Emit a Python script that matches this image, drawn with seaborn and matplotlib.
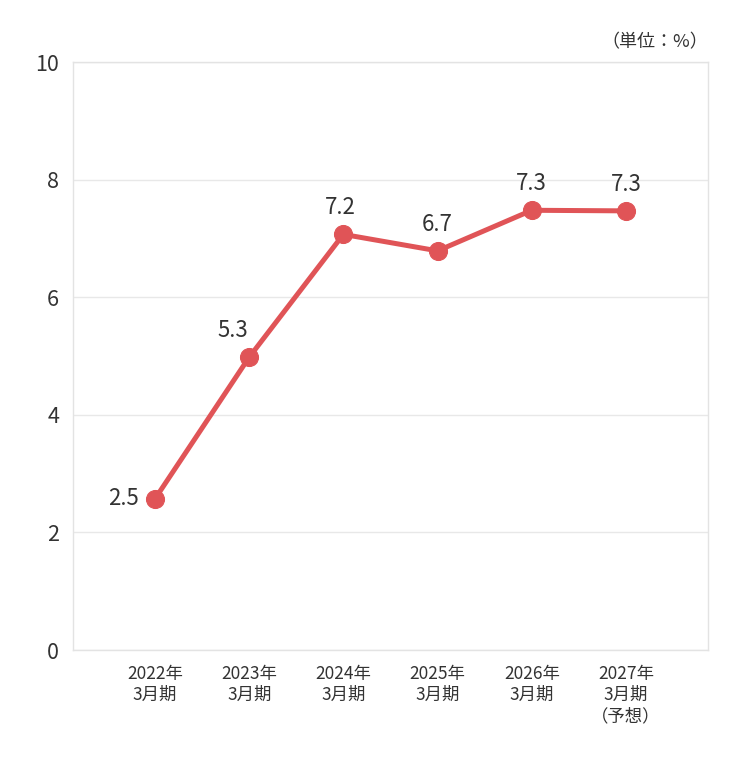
import matplotlib
matplotlib.use("Agg")
import matplotlib.pyplot as plt
import seaborn as sns
import pandas as pd

periods = ["2022年\n3月期", "2023年\n3月期", "2024年\n3月期", "2025年\n3月期", "2026年\n3月期", "2027年\n3月期\n（予想）"]
values = [2.57, 4.98, 7.07, 6.79, 7.48, 7.47]
labels = ["2.5", "5.3", "7.2", "6.7", "7.3", "7.3"]
yticks = [0, 2, 4, 6, 8, 10]

sns.set_style("white")
plt.rcParams['font.family'] = ['Noto Sans CJK JP', 'DejaVu Sans']

df = pd.DataFrame({"period": periods, "value": values})

fig = plt.figure(figsize=(7.52, 7.67), dpi=100)
ax = fig.add_axes([0.097, 0.1525, 0.8445, 0.7665])

line_color = "#e05457"
sns.lineplot(data=df, x="period", y="value", ax=ax, color=line_color, linewidth=3.6,
             marker="o", markersize=13, markeredgecolor=line_color, sort=False, zorder=3)

ax.set_ylim(0, 10)
ax.set_xlim(-0.87, len(periods) - 1 + 0.87)
ax.set_yticks(yticks)
ax.set_yticklabels([str(t) for t in yticks], fontsize=15.5, color="#333333")
ax.tick_params(axis="y", length=0, pad=10)
ax.tick_params(axis="x", length=0, pad=11)
for lbl in ax.get_xticklabels():
    lbl.set_fontsize(12.5)
    lbl.set_color("#333333")
    lbl.set_linespacing(1.2)
ax.set_xlabel("")
ax.set_ylabel("")
ax.grid(axis="y", color="#e8e8e8", linewidth=1)
ax.set_axisbelow(True)
for s in ax.spines.values():
    s.set_color("#e3e3e3")
    s.set_linewidth(1)

for i, (v, t) in enumerate(zip(values, labels)):
    if i == 0:
        ax.annotate(t, (i, v), xytext=(-23, 0), textcoords="offset points",
                    ha="center", va="center", fontsize=16, color="#333333")
    elif i == 1:
        ax.annotate(t, (i, v), xytext=(-12, 19), textcoords="offset points",
                    ha="center", va="center", fontsize=16, color="#333333")
    else:
        ax.annotate(t, (i, v), xytext=(-2 if i == 2 else 0, 19), textcoords="offset points",
                    ha="center", va="center", fontsize=16, color="#333333")

fig.text(0.9415, 0.945, "（単位：%）", ha="right", va="center", fontsize=13, color="#333333")

fig.savefig("out.png", dpi=100)
